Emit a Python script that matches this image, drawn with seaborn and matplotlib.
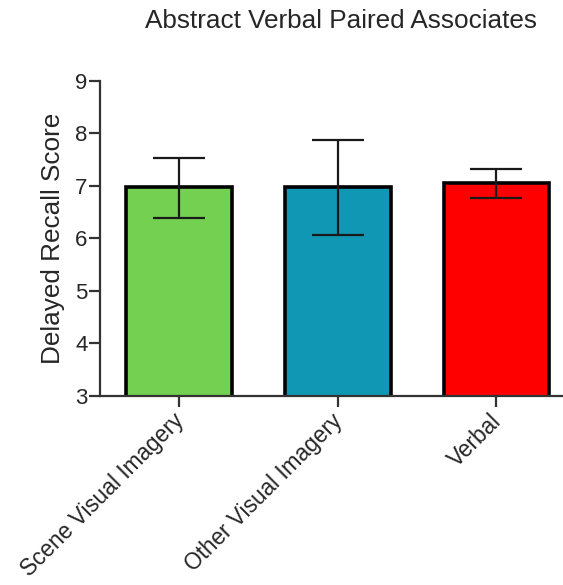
import matplotlib
matplotlib.use("Agg")
import matplotlib.pyplot as plt
import matplotlib.transforms as mtransforms
import seaborn as sns
import pandas as pd
import numpy as np

conditions = ["Scene Visual Imagery", "Other Visual Imagery", "Verbal"]
mean_scores = [6.97, 6.97, 7.05]
err_upper = [7.54, 7.88, 7.32]
err_lower = [6.39, 6.07, 6.76]
bar_colors = ["#74D050", "#1097B4", "#FF0000"]
y_ticks = [3, 4, 5, 6, 7, 8, 9]

sns.set_theme(style="white")
plt.rcParams["font.family"] = ["Liberation Sans", "DejaVu Sans"]

df = pd.DataFrame({"condition": conditions, "score": mean_scores})

fig = plt.figure(figsize=(5.63, 5.85), dpi=100)
ax = fig.add_axes([0.1776, 0.3236, 0.8224, 0.5379])

sns.barplot(data=df, x="condition", y="score", hue="condition",
            palette=bar_colors, order=conditions, hue_order=conditions,
            width=0.666, edgecolor="black", linewidth=2.6, errorbar=None,
            saturation=1, legend=False, ax=ax, zorder=2)

xpos = np.arange(len(conditions))
means = np.array(mean_scores)
yerr = np.vstack([means - np.array(err_lower), np.array(err_upper) - means])
ax.errorbar(xpos, means, yerr=yerr, fmt="none", ecolor="#1a1a1a",
            elinewidth=1.6, capsize=18.7, capthick=1.6, zorder=3)

ax.set_ylim(3, 9)
ax.set_xlim(-0.5, 2.42)
ax.set_yticks(y_ticks)
ax.set_yticklabels([str(t) for t in y_ticks])

ax.set_xlabel("")
ax.set_ylabel("Delayed Recall Score", fontsize=18.8, labelpad=7)
ax.set_title("Abstract Verbal Paired Associates", fontsize=18.8,
             pad=38, x=0.52)

for side in ["top", "right"]:
    ax.spines[side].set_visible(False)
for side in ["left", "bottom"]:
    ax.spines[side].set_color("#333333")
    ax.spines[side].set_linewidth(1.6)

ax.tick_params(axis="both", direction="out", length=8, width=1.6,
               color="#333333", left=True, bottom=True)
ax.tick_params(axis="y", pad=1, labelsize=16)
ax.tick_params(axis="x", pad=2, labelsize=16.3)

# tuck the slanted category labels in under their ticks
shift = mtransforms.ScaledTranslation(-5.0 / 72, 0, fig.dpi_scale_trans)
for lbl in ax.get_xticklabels():
    lbl.set_rotation(45)
    lbl.set_ha("right")
    lbl.set_rotation_mode("anchor")
    lbl.set_transform(lbl.get_transform() + shift)

fig.savefig("out.png", dpi=100, facecolor="white")
